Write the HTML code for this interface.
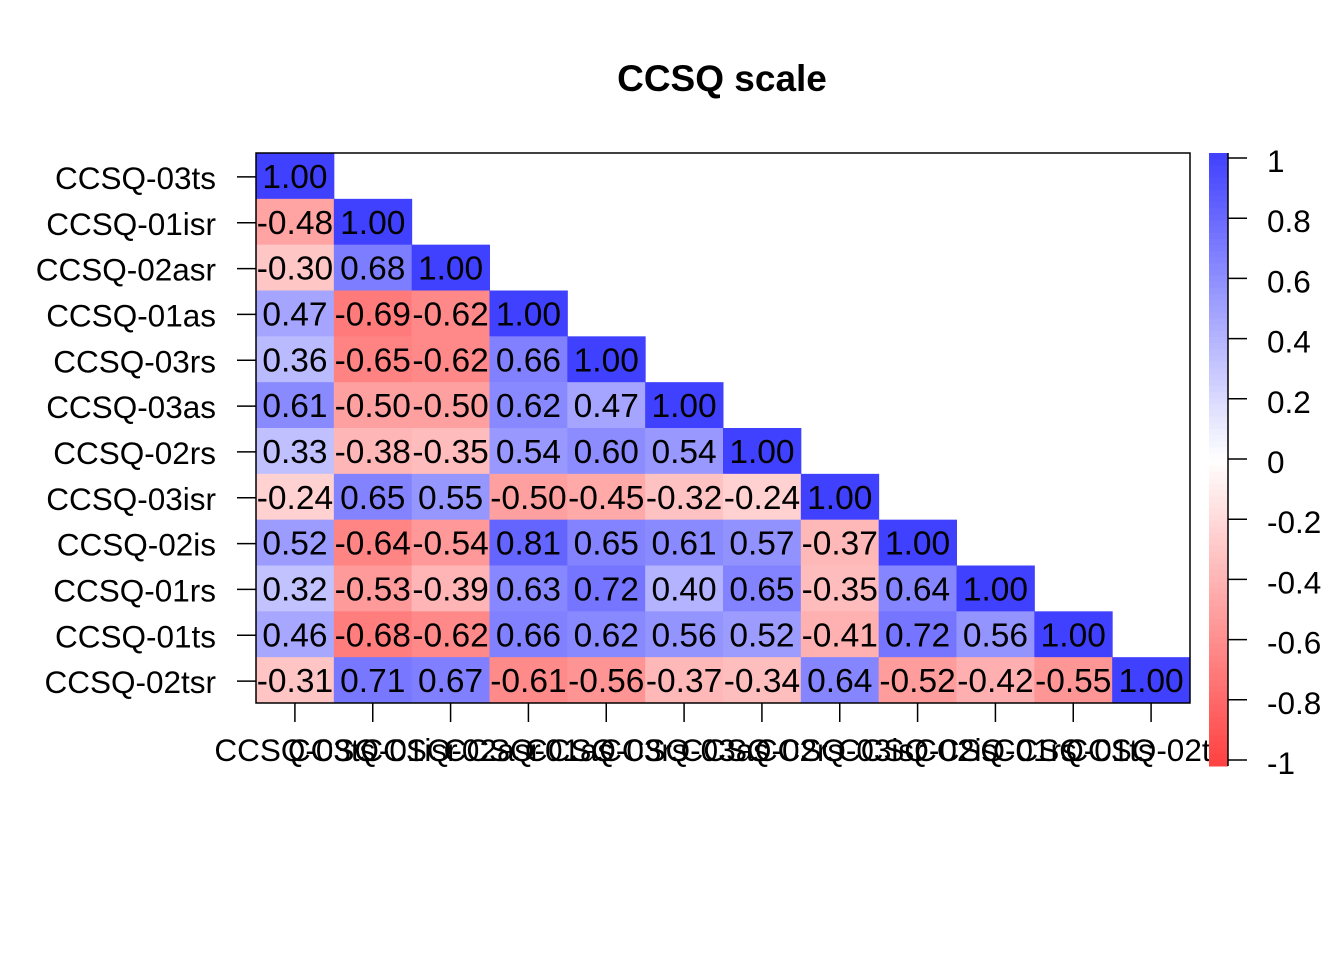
<!DOCTYPE html>
<html><head><meta charset="utf-8"><style>
body{margin:0;background:#fff;}
svg{display:block;font-family:"Liberation Sans",Arial,sans-serif;}
</style></head><body>
<svg id="chart" width="1344" height="960">
<defs><clipPath id="xclip"><rect x="0" y="0" width="1209" height="960"/></clipPath></defs>
<text x="722" y="91" text-anchor="middle" font-size="37" font-weight="bold">CCSQ scale</text>
<g id="cells"></g>
<g id="axes"></g>
<g id="xlabels" clip-path="url(#xclip)"></g>
<g id="cbar"></g>
</svg>
<script>
const labels = ["CCSQ-03ts","CCSQ-01isr","CCSQ-02asr","CCSQ-01as","CCSQ-03rs","CCSQ-03as","CCSQ-02rs","CCSQ-03isr","CCSQ-02is","CCSQ-01rs","CCSQ-01ts","CCSQ-02tsr"];
const row1 = [1];
const row2 = [-0.48,1];
const row3 = [-0.30,0.68,1];
const row4 = [0.47,-0.69,-0.62,1];
const row5 = [0.36,-0.65,-0.62,0.66,1];
const row6 = [0.61,-0.50,-0.50,0.62,0.47,1];
const row7 = [0.33,-0.38,-0.35,0.54,0.60,0.54,1];
const row8 = [-0.24,0.65,0.55,-0.50,-0.45,-0.32,-0.24,1];
const row9 = [0.52,-0.64,-0.54,0.81,0.65,0.61,0.57,-0.37,1];
const row10 = [0.32,-0.53,-0.39,0.63,0.72,0.40,0.65,-0.35,0.64,1];
const row11 = [0.46,-0.68,-0.62,0.66,0.62,0.56,0.52,-0.41,0.72,0.56,1];
const row12 = [-0.31,0.71,0.67,-0.61,-0.56,-0.37,-0.34,0.64,-0.52,-0.42,-0.55,1];
const rows = [row1,row2,row3,row4,row5,row6,row7,row8,row9,row10,row11,row12];
const legendTicks = [1,0.8,0.6,0.4,0.2,0,-0.2,-0.4,-0.6,-0.8,-1];

const NS="http://www.w3.org/2000/svg";
const L=256,R=1190,T=153,B=703,n=labels.length;
const cw=(R-L)/n, ch=(B-T)/n;
const xPos=i=>L+i*cw, yPos=j=>T+j*ch;
const cbTop=153,cbBot=766;
const cbY=v=>cbTop+(1-v)/2*(cbBot-cbTop);
const tkY=v=>161+(1-v)/2*602;
function color(v){
  const a=Math.min(1,Math.abs(v));
  const lo=Math.round(255-a*191);
  return v>=0?`rgb(${lo},${lo},255)`:`rgb(255,${lo},${lo})`;
}
function mk(tag,attrs,parent,txt){const e=document.createElementNS(NS,tag);for(const k in attrs)e.setAttribute(k,attrs[k]);if(txt!==undefined)e.textContent=txt;parent.appendChild(e);return e;}
const cells=document.getElementById('cells'),axes=document.getElementById('axes'),cbar=document.getElementById('cbar'),xg=document.getElementById('xlabels');
rows.forEach((r,j)=>r.forEach((v,i)=>{
  const rc=mk('rect',{x:xPos(i),y:yPos(j),width:cw+0.5,height:ch+0.5,fill:color(v)},cells);
  
  
  const t=mk('text',{x:xPos(i)+cw/2,y:yPos(j)+ch/2+12,'text-anchor':'middle','font-size':33.5},cells,v.toFixed(2));
  
  
}));
mk('rect',{x:L,y:T,width:R-L,height:B-T,fill:'none',stroke:'#000','stroke-width':1.5},axes);
labels.forEach((lab,i)=>{
  const cx=xPos(i)+cw/2, cy=yPos(i)+ch/2;
  mk('line',{x1:cx,x2:cx,y1:B,y2:B+19,stroke:'#000','stroke-width':1.5},axes);
  mk('line',{x1:L-19,x2:L,y1:cy+1,y2:cy+1,stroke:'#000','stroke-width':1.5},axes);
  const yl=mk('text',{x:216,y:cy+13,'text-anchor':'end','font-size':31.5},axes,lab);
  
  
  const xl=mk('text',{x:cx,y:761,'text-anchor':'middle','font-size':31.5},xg,lab);
  
  
});
const steps=100;
for(let k=0;k<steps;k++){
  const v1=1-k*2/steps, v2=v1-2/steps;
  mk('rect',{x:1209,y:cbY(v1),width:19,height:cbY(v2)-cbY(v1)+0.5,fill:color((v1+v2)/2)},cbar);
}
mk('line',{x1:1228,x2:1228,y1:cbTop,y2:cbBot,stroke:'#000','stroke-width':1.5},cbar);
legendTicks.forEach(v=>{
  const y=tkY(v);
  mk('line',{x1:1228,x2:1247,y1:y-3,y2:y-3,stroke:'#000','stroke-width':1.5},cbar);
  const t=mk('text',{x:1267,y:y+11,'font-size':31.5},cbar,String(v));
  
  
});
</script>
</body></html>
